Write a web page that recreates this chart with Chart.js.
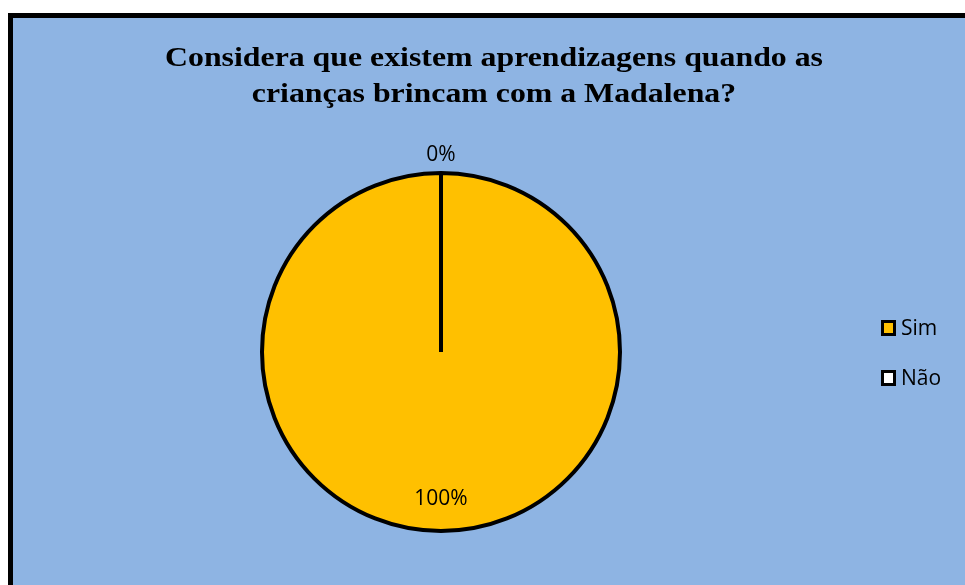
<!DOCTYPE html>
<html>
<head>
<meta charset="utf-8">
<script src="https://cdn.jsdelivr.net/npm/chart.js@4"></script>
<style>
  html, body { margin: 0; padding: 0; background: #ffffff; }
  #wrap { width: 965px; height: 585px; }
</style>
</head>
<body>
<div id="wrap"><canvas id="pieChart" width="965" height="585"></canvas></div>
<script>
// chart data
const titleLines = ['Considera que existem aprendizagens quando as', 'crianças brincam com a Madalena?'];
const categories = ['Sim', 'Não'];
const values = [100, 0];
const sliceColors = ['#FFC000', '#FFFFFF'];
const pctLabels = ['100%', '0%'];

const bgBlue = '#8EB4E3';

// frame + title + labels + legend drawn around the pie
const decorPlugin = {
    id: 'decor',
    beforeDraw(chart) {
        const ctx = chart.ctx;
        ctx.save();
        ctx.fillStyle = '#ffffff';
        ctx.fillRect(0, 0, chart.width, chart.height);
        ctx.fillStyle = '#000000';
        ctx.fillRect(8, 13, chart.width, chart.height);
        ctx.fillStyle = bgBlue;
        ctx.fillRect(13, 18, chart.width, chart.height);

        // title - the original font is a bit wider, stretch to match
        ctx.fillStyle = '#000000';
        ctx.font = 'bold 28px "Liberation Serif"';
        ctx.textAlign = 'center';
        ctx.textBaseline = 'alphabetic';
        const w = ctx.measureText(titleLines[0]).width;
        const sx = 658 / w;
        ctx.translate(494, 0);
        ctx.scale(sx, 1);
        ctx.fillText(titleLines[0], 0, 66);
        ctx.fillText(titleLines[1], 0, 102);
        ctx.restore();
    },
    afterDraw(chart) {
        const ctx = chart.ctx;
        const meta = chart.getDatasetMeta(0);
        ctx.save();
        ctx.fillStyle = '#000000';
        ctx.font = '21px "Open Sans"';
        ctx.textAlign = 'center';
        ctx.textBaseline = 'middle';
        meta.data.forEach((arc, i) => {
            const mid = (arc.startAngle + arc.endAngle) / 2;
            // empty slice gets its label outside, the full one inside
            const dist = values[i] === 0 ? arc.outerRadius + 18 : arc.outerRadius - 32;
            const x = arc.x + Math.cos(mid) * dist;
            const y = arc.y + Math.sin(mid) * dist;
            ctx.fillText(pctLabels[i], x, y);
        });

        // legend
        ctx.font = '21px "Open Sans"';
        ctx.textAlign = 'left';
        categories.forEach((name, i) => {
            const y = 328 + i * 50;
            ctx.fillStyle = '#000000';
            ctx.fillRect(881, y - 8, 15, 16);
            ctx.fillStyle = sliceColors[i];
            ctx.fillRect(884, y - 5, 9, 10);
            ctx.fillStyle = '#000000';
            ctx.fillText(name, 901, y + 1);
        });
        ctx.restore();
    }
};

new Chart(document.getElementById('pieChart'), {
    type: 'pie',
    data: {
        labels: categories,
        datasets: [{
            data: values,
            backgroundColor: sliceColors,
            borderColor: '#000000',
            borderWidth: 4
        }]
    },
    options: {
        responsive: false,
        animation: false,
        radius: 179,
        layout: { padding: { left: 22, right: 105, top: 120, bottom: 1 } },
        plugins: {
            legend: { display: false },
            tooltip: { enabled: false }
        }
    },
    plugins: [decorPlugin]
});
</script>
</body>
</html>
